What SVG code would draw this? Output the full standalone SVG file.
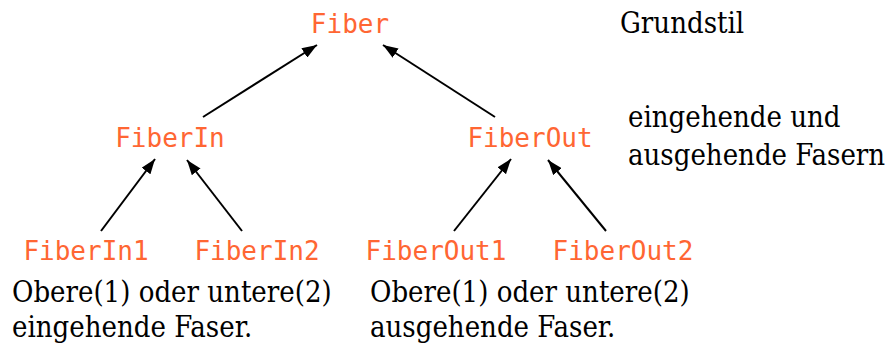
<svg xmlns="http://www.w3.org/2000/svg" width="887" height="347" viewBox="0 0 887 347">
<defs>
<marker id="ah" viewBox="0 0 15 11" refX="15" refY="5.5" markerWidth="15" markerHeight="11" markerUnits="userSpaceOnUse" orient="auto"><path d="M0,0 L15,5.5 L0,11 z" fill="#000"/></marker>
</defs>
<style>
.n{font-family:"DejaVu Sans Mono",monospace;font-size:26px;fill:#ff6633;text-anchor:middle}
.t{font-family:"DejaVu Serif Condensed","DejaVu Serif",serif;font-stretch:condensed;font-size:29px;fill:#000}
.c line{stroke:#000;stroke-width:2;marker-end:url(#ah)}
</style>
<rect width="887" height="347" fill="#fff"/>
<g class="c" id="connectors">
<line x1="203" y1="117" x2="317" y2="45"/>
<line x1="495" y1="117" x2="383" y2="45"/>
<line x1="101" y1="231" x2="155" y2="159"/>
<line x1="242" y1="231" x2="187" y2="160"/>
<line x1="454" y1="231" x2="511" y2="159"/>
<line x1="606" y1="231" x2="548" y2="160"/>
</g>
<g id="fiber"><text class="n" x="350" y="33">Fiber</text></g>
<g id="fiberin"><text class="n" x="170" y="147">FiberIn</text></g>
<g id="fiberout"><text class="n" x="530" y="147">FiberOut</text></g>
<g id="fiberin1"><text class="n" x="86" y="260">FiberIn1</text></g>
<g id="fiberin2"><text class="n" x="257" y="260">FiberIn2</text></g>
<g id="fiberout1"><text class="n" x="436" y="260">FiberOut1</text></g>
<g id="fiberout2"><text class="n" x="623" y="260">FiberOut2</text></g>
<g id="labels">
<text class="t" x="620" y="33">Grundstil</text>
<text class="t" x="628" y="127">eingehende und</text>
<text class="t" x="628" y="165">ausgehende Fasern</text>
<text class="t" x="12" y="302">Obere(1) oder untere(2)</text>
<text class="t" x="12" y="337">eingehende Faser.</text>
<text class="t" x="370" y="302">Obere(1) oder untere(2)</text>
<text class="t" x="370" y="337">ausgehende Faser.</text>
</g>
</svg>
